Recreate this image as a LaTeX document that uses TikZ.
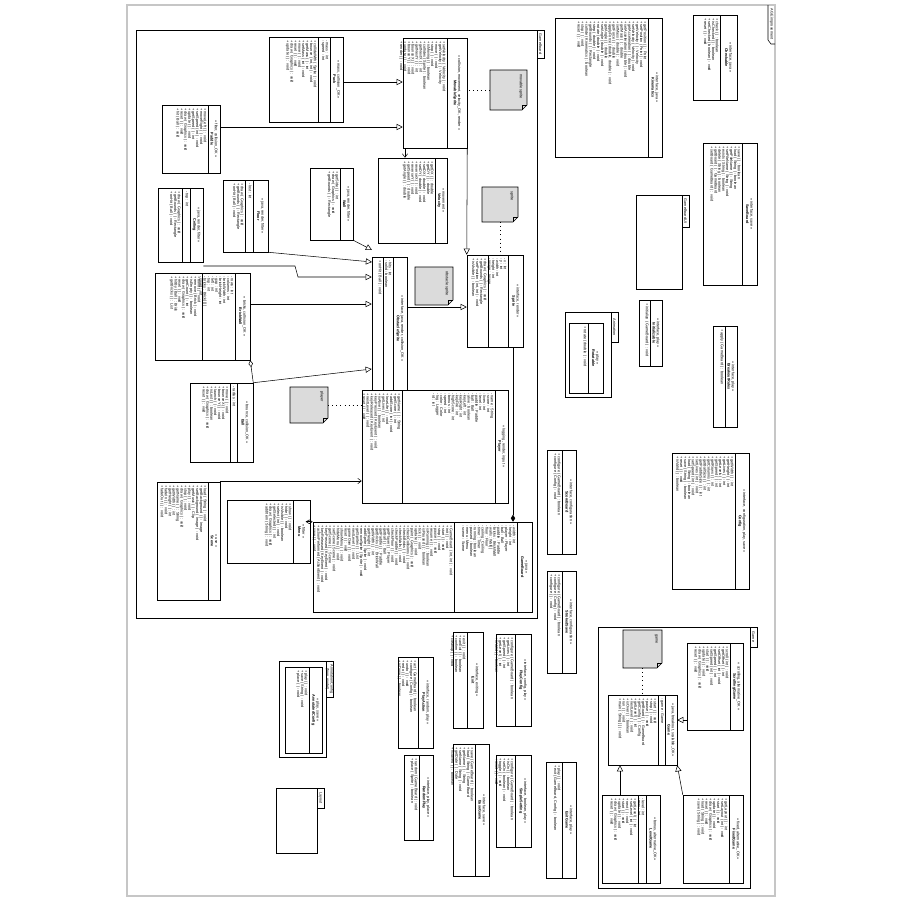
\documentclass[tikz,border=0pt]{standalone}
\usepackage{fontspec}
\setmainfont{Liberation Sans}
\usetikzlibrary{positioning,arrows.meta}

\tikzset{
  umlbox/.style={draw,inner sep=0pt,fill=white,line width=0.3pt},
  umltext/.style={rotate=-90,anchor=north west,align=left,inner sep=0pt,
    font=\fontsize{2.15}{2.22}\selectfont},
  umlhead/.style={rotate=-90,align=center,inner sep=0pt,
    font=\fontsize{2.15}{2.4}\selectfont},
  gen/.style={-{Triangle[open,length=3.5pt,width=3.5pt]},line width=0.3pt},
  comp/.style={-{Diamond[length=4pt,width=2.5pt]},line width=0.3pt},
  aggr/.style={{Diamond[open,length=4pt,width=2.5pt]}-,line width=0.3pt},
  assoc/.style={-{Straight Barb[length=2pt,width=3pt]},line width=0.3pt},
  noteline/.style={dotted,line width=0.3pt},
  pkgframe/.style={draw,line width=0.3pt},
}

% class box: id, x1, y1, x2, y2, name width, attribute width, header, attributes
\newcommand{\clsbox}[9]{%
  \pgfmathsetmacro\cx{(#2+#4)/2}\pgfmathsetmacro\cy{(#3+#5)/2}%
  \pgfmathsetmacro\bw{(#4-#2)*0.2}\pgfmathsetmacro\bh{(#5-#3)*0.2}%
  \node[umlbox,minimum width=\bw mm,minimum height=\bh mm] (#1) at (\cx,\cy) {};
  \draw[line width=0.3pt] (#4-#6,#3) -- (#4-#6,#5);
  \draw[line width=0.3pt] (#4-#6-#7,#3) -- (#4-#6-#7,#5);
  \node[umlhead] at (#4-#6/2,\cy) {#8};
  \node[umltext] at (#4-#6-1,#3+3) {#9};
  \coordinate (#1-ops) at (#4-#6-#7-1,#3+3);
}
% note: id, x1, y1, x2, y2, text
\newcommand{\umlnote}[6]{%
  \pgfmathsetmacro\cx{(#2+#4)/2}\pgfmathsetmacro\cy{(#3+#5)/2}%
  \pgfmathsetmacro\bw{(#4-#2)*0.2}\pgfmathsetmacro\bh{(#5-#3)*0.2}%
  \filldraw[fill=gray!28,line width=0.3pt] (#2,#3) -- (#4,#3) -- (#4,#5-5) -- (#4-5,#5) -- (#2,#5) -- cycle;
  \draw[line width=0.3pt] (#4,#5-5) -- (#4-5,#5-5) -- (#4-5,#5);
  \node[inner sep=0pt,minimum width=\bw mm,minimum height=\bh mm] (#1) at (\cx,\cy) {};
  \node[umltext] at (#4-4,#3+4) {#6};
}
% package: x1, y1, x2, y2, tab length, label
\newcommand{\umlpkg}[6]{%
  \draw[pkgframe] (#1,#2) rectangle (#3,#4);
  \draw[line width=0.3pt] (#3,#2) rectangle (#3+7,#2+#5);
  \node[umlhead] at (#3+3.5,#2+#5/2) {#6};
}

\begin{document}
\begin{tikzpicture}[x=0.2mm,y=-0.2mm]
  \useasboundingbox (0,0) rectangle (900,900);

  % diagram frame
  \draw[gray!45,line width=1pt] (127,5) rectangle (775,896);
  \draw[line width=0.3pt] (768,5) -- (768,40) -- (771,44) -- (775,44);
  \node[umlhead] at (771.5,24) {AGE improvement};

  % ---------------- board package ----------------
  \umlpkg{136}{30}{537}{618}{28}{GameBoard}

  \clsbox{puck}{269}{37}{343}{122}{13}{12}
    {<< mass, collision\_OK >>\\\textbf{Puck}}
    {- mass : int\\- speed : int}
  \node[umltext] at (puck-ops) {+ collideWith ( Sprite ) : void\\+ bounce ( int, int ) : void\\+ getMass ( ) : int\\+ setMass ( int ) : void\\+ move ( ) : void\\+ reset ( ) : void\\+ draw ( Graphics ) : void\\+ update ( ) : void};

  \clsbox{movable}{403}{38}{467}{148}{20}{0}
    {<< collision, movement, velocity\_OK, render >>\\\textbf{MovableSprite}}{}
  \node[umltext] at (movable-ops) {+ setVelocity ( Velocity ) : void\\+ getVelocity ( ) : Velocity\\+ move ( ) : void\\+ stop ( ) : void\\+ isMoving ( ) : boolean\\+ collides ( Sprite ) : boolean\\+ getNextX ( ) : int\\+ getNextY ( ) : int\\+ bounceX ( ) : void\\+ bounceY ( ) : void\\+ update ( ) : void\\+ render ( ) : void};
  \umlnote{nmovable}{490}{70}{527}{110}{movable sprite}
  \draw[noteline] (nmovable) -- (movable.east |- nmovable);

  \clsbox{paddle}{162}{105}{220}{173}{12}{0}
    {<< filter, collision\_OK >>\\\textbf{Paddle}}{}
  \node[umltext] at (paddle-ops) {+ moveLeft ( ) : void\\+ moveRight ( ) : void\\+ setSpeed ( int ) : void\\+ getSpeed ( ) : int\\+ update ( ) : void\\+ draw ( Graphics ) : void\\+ reset ( ) : void\\+ hit ( Ball ) : void};

  \clsbox{velocity}{378}{158}{447}{243}{12}{0}
    {<< movement >>\\\textbf{Velocity}}{}
  \node[umltext] at (velocity-ops) {+ getDX ( ) : double\\+ getDY ( ) : double\\+ setDX ( double ) : void\\+ setDY ( double ) : void\\+ reverseX ( ) : void\\+ reverseY ( ) : void\\+ getSpeed ( ) : double\\+ getAngle ( ) : double};

  \umlnote{nsprite}{482}{187}{518}{222}{sprite}
  \clsbox{sprite}{467}{255}{523}{347}{15}{20}
    {<< interface, render >>\\\textbf{Sprite}}
    {- x : int\\- y : int\\- width : int\\- height : int\\- image : Image}
  \node[umltext] at (sprite-ops) {+ draw ( Graphics ) : void\\+ getBounds ( ) : Rectangle\\+ setPosition ( int, int ) : void\\+ isVisible ( ) : boolean};
  \draw[noteline] (nsprite) -- (nsprite |- sprite.north);

  \clsbox{obstacle}{372}{257}{407}{400}{14}{10}
    {<< interface, java, render, collision\_OK >>\\\textbf{ObstacleSprite}}
    {- hits : int\\- solid : boolean}
  \node[umltext] at (obstacle-ops) {+ onHit ( Ball ) : void};
  \umlnote{nobstacle}{415}{267}{453}{305}{obstacle sprite}

  \clsbox{wall}{310}{168}{353}{240}{13}{0}
    {<< java, render, filter >>\\\textbf{Wall}}{}
  \node[umltext] at (wall-ops) {+ getSide ( ) : int\\+ draw ( Graphics ) : void\\+ getBounds ( ) : Rectangle};

  \clsbox{floor}{223}{180}{268}{252}{15}{8}
    {<< java, render, filter >>\\\textbf{Floor}}{- lost : int}
  \node[umltext] at (floor-ops) {+ draw ( Graphics ) : void\\+ getBounds ( ) : Rectangle\\+ onHit ( Ball ) : void};

  \clsbox{ceiling}{158}{188}{203}{262}{13}{8}
    {<< java, render, filter >>\\\textbf{Ceiling}}{- top : int}
  \node[umltext] at (ceiling-ops) {+ draw ( Graphics ) : void\\+ getBounds ( ) : Rectangle\\+ onHit ( Ball ) : void};

  \clsbox{bricks}{155}{273}{250}{360}{15}{33}
    {<< bricks, collision\_OK >>\\\textbf{BrickWall}}
    {- rows : int\\- columns : int\\- brickWidth : int\\- brickHeight : int\\- gap : int\\- left : int\\- top : int\\- bricks : Brick[ ][ ]\\- count : int}
  \node[umltext] at (bricks-ops) {+ build ( ) : void\\+ remove ( Brick ) : void\\+ isEmpty ( ) : boolean\\+ getCount ( ) : int\\+ draw ( Graphics ) : void\\+ reset ( ) : void\\+ hitBy ( Ball ) : Brick\\+ getBricks ( ) : List};

  \clsbox{ball}{190}{383}{253}{462}{16}{7}
    {<< bounce, collision\_OK >>\\\textbf{Ball}}{- radius : int}
  \node[umltext] at (ball-ops) {+ move ( ) : void\\+ bounceX ( ) : void\\+ bounceY ( ) : void\\+ launch ( ) : void\\+ isLost ( ) : boolean\\+ draw ( Graphics ) : void\\+ reset ( ) : void};

  \umlnote{nplayer}{290}{387}{328}{423}{player}
  \clsbox{player}{362}{390}{508}{503}{13}{93}
    {<< logging, render, input >>\\\textbf{Player}}
    {- name : String\\- score : int\\- lives : int\\- level : int\\- paddle : Paddle\\- ball : Ball\\- alive : boolean\\- keyLeft : int\\- keyRight : int\\- keyFire : int\\- highScore : int\\- bonus : int\\- speed : int\\- color : Color\\- log : Logger\\- id : int}
  \node[umltext] at (player-ops) {+ getName ( ) : String\\+ getScore ( ) : int\\+ addScore ( int ) : void\\+ loseLife ( ) : void\\+ getLives ( ) : int\\+ isAlive ( ) : boolean\\+ keyPressed ( KeyEvent ) : void\\+ keyReleased ( KeyEvent ) : void\\+ nextLevel ( ) : void\\+ reset ( ) : void};
  \draw[noteline] (nplayer) -- (nplayer -| player.west);

  \clsbox{board}{313}{522}{532}{612}{15}{63}
    {<< java >>\\\textbf{GameBoard}}
    {- width : int\\- height : int\\- player : Player\\- ball : Ball\\- paddle : Paddle\\- bricks : BrickWall\\- walls : Wall[ ]\\- floor : Floor\\- ceiling : Ceiling\\- timer : Timer\\- running : boolean\\- paused : boolean\\- menu : Menu\\- scene : Scene}
  \node[umltext] at (board-ops) {+ GameBoard ( int, int ) : void\\+ init ( ) : void\\+ start ( ) : void\\+ stop ( ) : void\\+ pause ( ) : void\\+ resume ( ) : void\\+ isRunning ( ) : boolean\\+ isPaused ( ) : boolean\\+ tick ( ) : void\\+ update ( ) : void\\+ paint ( Graphics ) : void\\+ checkCollisions ( ) : void\\+ checkBricks ( ) : void\\+ checkWalls ( ) : void\\+ checkPaddle ( ) : void\\+ checkFloor ( ) : void\\+ getPlayer ( ) : Player\\+ getBall ( ) : Ball\\+ getPaddle ( ) : Paddle\\+ getBricks ( ) : BrickWall\\+ getWidth ( ) : int\\+ getHeight ( ) : int\\+ addSprite ( Sprite ) : void\\+ removeSprite ( Sprite ) : void\\+ getSprites ( ) : List\\+ nextLevel ( ) : void\\+ gameOver ( ) : void\\+ reset ( ) : void\\+ showMenu ( ) : void\\+ hideMenu ( ) : void\\+ setScene ( Scene ) : void\\+ getScene ( ) : Scene\\+ keyPressed ( KeyEvent ) : void\\+ keyReleased ( KeyEvent ) : void\\+ actionPerformed ( ActionEvent ) : void\\+ save ( ) : void};

  \clsbox{menu}{227}{500}{310}{563}{17}{0}
    {<< filter >>\\\textbf{Menu}}{}
  \node[umltext] at (menu-ops) {+ show ( ) : void\\+ hide ( ) : void\\+ isVisible ( ) : boolean\\+ select ( int ) : void\\+ getSelected ( ) : int\\+ draw ( Graphics ) : void\\+ addItem ( String ) : void};

  \clsbox{scene}{157}{482}{220}{600}{12}{0}
    {<< use >>\\\textbf{Scene}}{}
  \node[umltext] at (scene-ops) {+ load ( String ) : void\\+ getBackground ( ) : Image\\+ setBackground ( Image ) : void\\+ getMusic ( ) : Clip\\+ play ( ) : void\\+ stop ( ) : void\\+ draw ( Graphics ) : void\\+ getName ( ) : String\\+ getWidth ( ) : int\\+ getHeight ( ) : int\\+ fadeIn ( ) : void\\+ fadeOut ( ) : void};

  % relations in the board package
  \draw[gen] (puck.east |- 0,82) -- (movable.west |- 0,82);
  \draw[gen] (paddle.east |- 0,127) -- (movable.west |- 0,127);
  \draw[assoc] (movable.south -| 405,0) -- (velocity.north -| 405,0);
  \draw[gen] (movable.south east) -- (sprite.north west);
  \draw[gen] (wall.south east) -- (372,250);
  \draw[gen] (floor.south east) -- (372,262);
  \draw[gen] (ceiling.east |- 0,266) -- (295,266) -- (298,277) -- (obstacle.west |- 0,277);
  \draw[gen] (bricks.east |- 0,304) -- (obstacle.west |- 0,304);
  \draw[gen] (ball.north east) -- (obstacle.west |- 0,369);
  \draw[gen] (obstacle.east |- 0,307) -- (sprite.west |- 0,307);
  \draw[aggr] (bricks.south east) -- (ball.north east);
  \draw[comp] (sprite.south -| 513,0) -- (board.north -| 513,0);
  \draw[aggr] (board.north west) -- (menu.east |- board.north west);
  \draw[assoc] (scene.east |- 0,481) -- (player.west |- 0,481);

  % ---------------- right column ----------------
  \clsbox{checkable}{693}{15}{737}{100}{17}{0}
    {<< interface, java >>\\\textbf{Checkable}}{}
  \node[umltext] at (checkable-ops) {+ check ( ) : boolean\\+ isChecked ( ) : boolean\\+ setChecked ( boolean ) : void\\+ reset ( ) : void};

  \clsbox{kinematics}{555}{18}{662}{157}{14}{0}
    {<< interface, java >>\\\textbf{Kinematics}}{}
  \node[umltext] at (kinematics-ops) {+ getPosition ( ) : Point\\+ setPosition ( Point ) : void\\+ getVelocity ( ) : Velocity\\+ setVelocity ( Velocity ) : void\\+ getAcceleration ( ) : double\\+ setAcceleration ( double ) : void\\+ getMass ( ) : double\\+ setMass ( double ) : void\\+ getForce ( ) : double\\+ applyForce ( double, double ) : void\\+ getAngle ( ) : double\\+ setAngle ( double ) : void\\+ rotate ( double ) : void\\+ step ( double ) : void\\+ getBounds ( ) : Rectangle\\+ collide ( Kinematics ) : boolean\\+ stop ( ) : void\\+ reset ( ) : void};

  \clsbox{saveboard}{703}{143}{757}{285}{15}{0}
    {<< interface, save >>\\\textbf{SaveBoard}}{}
  \node[umltext] at (saveboard-ops) {+ save ( ) : boolean\\+ load ( String ) : boolean\\+ getFileName ( ) : String\\+ setFileName ( String ) : void\\+ exists ( String ) : boolean\\+ delete ( String ) : boolean\\+ getBoard ( ) : GameBoard\\+ setBoard ( GameBoard ) : void};

  \umlpkg{636}{195}{682}{289}{32}{GameBoardUI}

  \clsbox{initboard}{639}{300}{662}{366}{12}{0}
    {<< interface, play >>\\\textbf{Initializable}}{}
  \node[umltext] at (initboard-ops) {+ initialize ( GameBoard ) : void};

  \umlpkg{565}{312}{611}{397}{30}{Animation}
  \clsbox{rotatable}{569}{323}{603}{393}{15}{0}
    {<< play >>\\\textbf{Rotatable}}{}
  \node[umltext] at (rotatable-ops) {+ rotate ( double ) : void};

  \clsbox{rules}{713}{326}{737}{427}{12}{0}
    {<< interface, play >>\\\textbf{BreakoutRules}}{}
  \node[umltext] at (rules-ops) {+ apply ( GameBoard ) : boolean};

  \clsbox{config}{672}{453}{749}{589}{14}{0}
    {<< interface, configuration, play, save >>\\\textbf{Config}}{}
  \node[umltext] at (config-ops) {+ getWidth ( ) : int\\+ getHeight ( ) : int\\+ getLives ( ) : int\\+ getLevels ( ) : int\\+ getSpeed ( ) : int\\+ getRows ( ) : int\\+ getColumns ( ) : int\\+ getBallSize ( ) : int\\+ getPaddleSize ( ) : int\\+ setLives ( int ) : void\\+ setSpeed ( int ) : void\\+ load ( String ) : boolean\\+ save ( String ) : boolean\\+ reset ( ) : void\\+ isValid ( ) : boolean};

  \clsbox{scoreboard}{547}{450}{576}{554}{14}{0}
    {<< interface, configuration >>\\\textbf{ScoreBoard}}{}
  \node[umltext] at (scoreboard-ops) {+ configure ( GameBoard ) : boolean\\+ configure ( Config ) : void};

  \clsbox{strokesave}{547}{571}{576}{673}{14}{0}
    {<< interface, configuration >>\\\textbf{StrokedSave}}{}
  \node[umltext] at (strokesave-ops) {+ configure ( GameBoard ) : boolean\\+ configure ( Config ) : void\\+ configure ( ) : void};

  % ---------------- game package ----------------
  \umlpkg{598}{627}{750}{888}{20}{Game}
  \umlnote{ngame}{623}{630}{662}{668}{game}
  \clsbox{game}{608}{695}{677}{765}{12}{7}
    {<< java, breakout, scalable\_OK >>\\\textbf{Game}}{- game : Game}
  \node[umltext] at (game-ops) {+ start ( ) : void\\+ stop ( ) : void\\+ pause ( ) : void\\+ getBoard ( ) : GameBoard\\+ getConfig ( ) : Config\\+ getLevel ( ) : int\\+ nextLevel ( ) : void\\+ isOver ( ) : boolean\\+ run ( ) : void\\+ main ( String[ ] ) : void};
  \draw[noteline] (ngame) -- (ngame |- game.north);

  \clsbox{scrolling}{687}{643}{743}{730}{13}{0}
    {<< scrolling, alternative\_OK >>\\\textbf{ScrollingGame}}{}
  \node[umltext] at (scrolling-ops) {+ scroll ( int ) : void\\+ getOffset ( ) : int\\+ setOffset ( int ) : void\\+ getSpeed ( ) : int\\+ setSpeed ( int ) : void\\+ start ( ) : void\\+ update ( ) : void\\+ draw ( Graphics ) : void\\+ reset ( ) : void};

  \clsbox{fixed}{683}{795}{743}{883}{14}{0}
    {<< fixed, alternative\_OK >>\\\textbf{FixedGame}}{}
  \node[umltext] at (fixed-ops) {+ getLayout ( ) : int\\+ setLayout ( int ) : void\\+ start ( ) : void\\+ update ( ) : void\\+ draw ( Graphics ) : void\\+ reset ( ) : void\\+ load ( String ) : void\\+ save ( String ) : void};

  \clsbox{level}{602}{795}{660}{883}{14}{8}
    {<< bonus, alternative\_OK >>\\\textbf{LevelGame}}{- level : int\\- max : int}
  \node[umltext] at (level-ops) {+ getLevel ( ) : int\\+ setLevel ( int ) : void\\+ next ( ) : void\\+ start ( ) : void\\+ update ( ) : void\\+ draw ( Graphics ) : void\\+ reset ( ) : void};

  \draw[gen] (scrolling.west |- 0,720) -- (game.east |- 0,720);
  \draw[gen] (fixed.north west) -- (game.south east);
  \draw[gen] (level.north -| 620,0) -- (game.south -| 620,0);

  % ---------------- lower middle ----------------
  \umlpkg{279}{661}{326}{757}{36}{AnnotationConfig\\(from model)}
  \clsbox{annot}{285}{667}{322}{753}{13}{0}
    {<< play, save >>\\\textbf{AnnotatedConfig}}{}
  \node[umltext] at (annot-ops) {+ play ( ) : void\\+ save ( String ) : void\\+ place ( ) : void};
  \umlpkg{276}{788}{317}{853}{20}{Layout}

  \clsbox{playaction}{398}{657}{433}{748}{15}{0}
    {<< interface, random, play >>\\\textbf{PlayAction}}{}
  \node[umltext] at (playaction-ops) {+ act ( GameBoard ) : boolean\\+ configure ( Config ) : boolean\\+ undo ( ) : void\\+ redo ( ) : void\\+ isDone ( ) : boolean};
  \clsbox{playrandom}{404}{755}{433}{840}{14}{0}
    {<< interface, play, place >>\\\textbf{RandomPlay}}{}
  \node[umltext] at (playrandom-ops) {+ random ( GameBoard ) : void\\+ place ( Sprite ) : boolean};

  \clsbox{exit}{453}{632}{483}{728}{16}{0}
    {<< interface, exiting >>\\\textbf{Exit}}{}
  \node[umltext] at (exit-ops) {+ exit ( ) : void\\+ canExit ( ) : boolean\\+ confirm ( ) : boolean\\+ cleanup ( ) : void};
  \clsbox{playconfig}{496}{634}{531}{726}{16}{0}
    {<< interface, config, play >>\\\textbf{PlayConfig}}{}
  \node[umltext] at (playconfig-ops) {+ configure ( GameBoard ) : boolean\\+ getLives ( ) : int\\+ getSpeed ( ) : int\\+ getLevel ( ) : int\\+ isValid ( ) : boolean};

  \clsbox{basegame}{453}{744}{489}{876}{14}{0}
    {<< interface, save >>\\\textbf{BaseGame}}{}
  \node[umltext] at (basegame-ops) {+ save ( GameBoard ) : boolean\\+ load ( String ) : GameBoard\\+ getName ( ) : String\\+ setName ( String ) : void\\+ getDate ( ) : Date\\+ isSaved ( ) : boolean};
  \clsbox{simplesetting}{496}{755}{531}{847}{16}{0}
    {<< interface, boolean, play >>\\\textbf{SimpleSetting}}{}
  \node[umltext] at (simplesetting-ops) {+ configure ( GameBoard ) : boolean\\+ isOn ( ) : boolean\\+ setOn ( boolean ) : void\\+ toggle ( ) : void\\+ reset ( ) : void};

  \clsbox{exitgame}{546}{762}{576}{878}{14}{0}
    {<< interface, play >>\\\textbf{ExitGame}}{}
  \node[umltext] at (exitgame-ops) {+ play ( ) : void\\+ exit ( GameBoard, Config ) : boolean};
\end{tikzpicture}
\end{document}
